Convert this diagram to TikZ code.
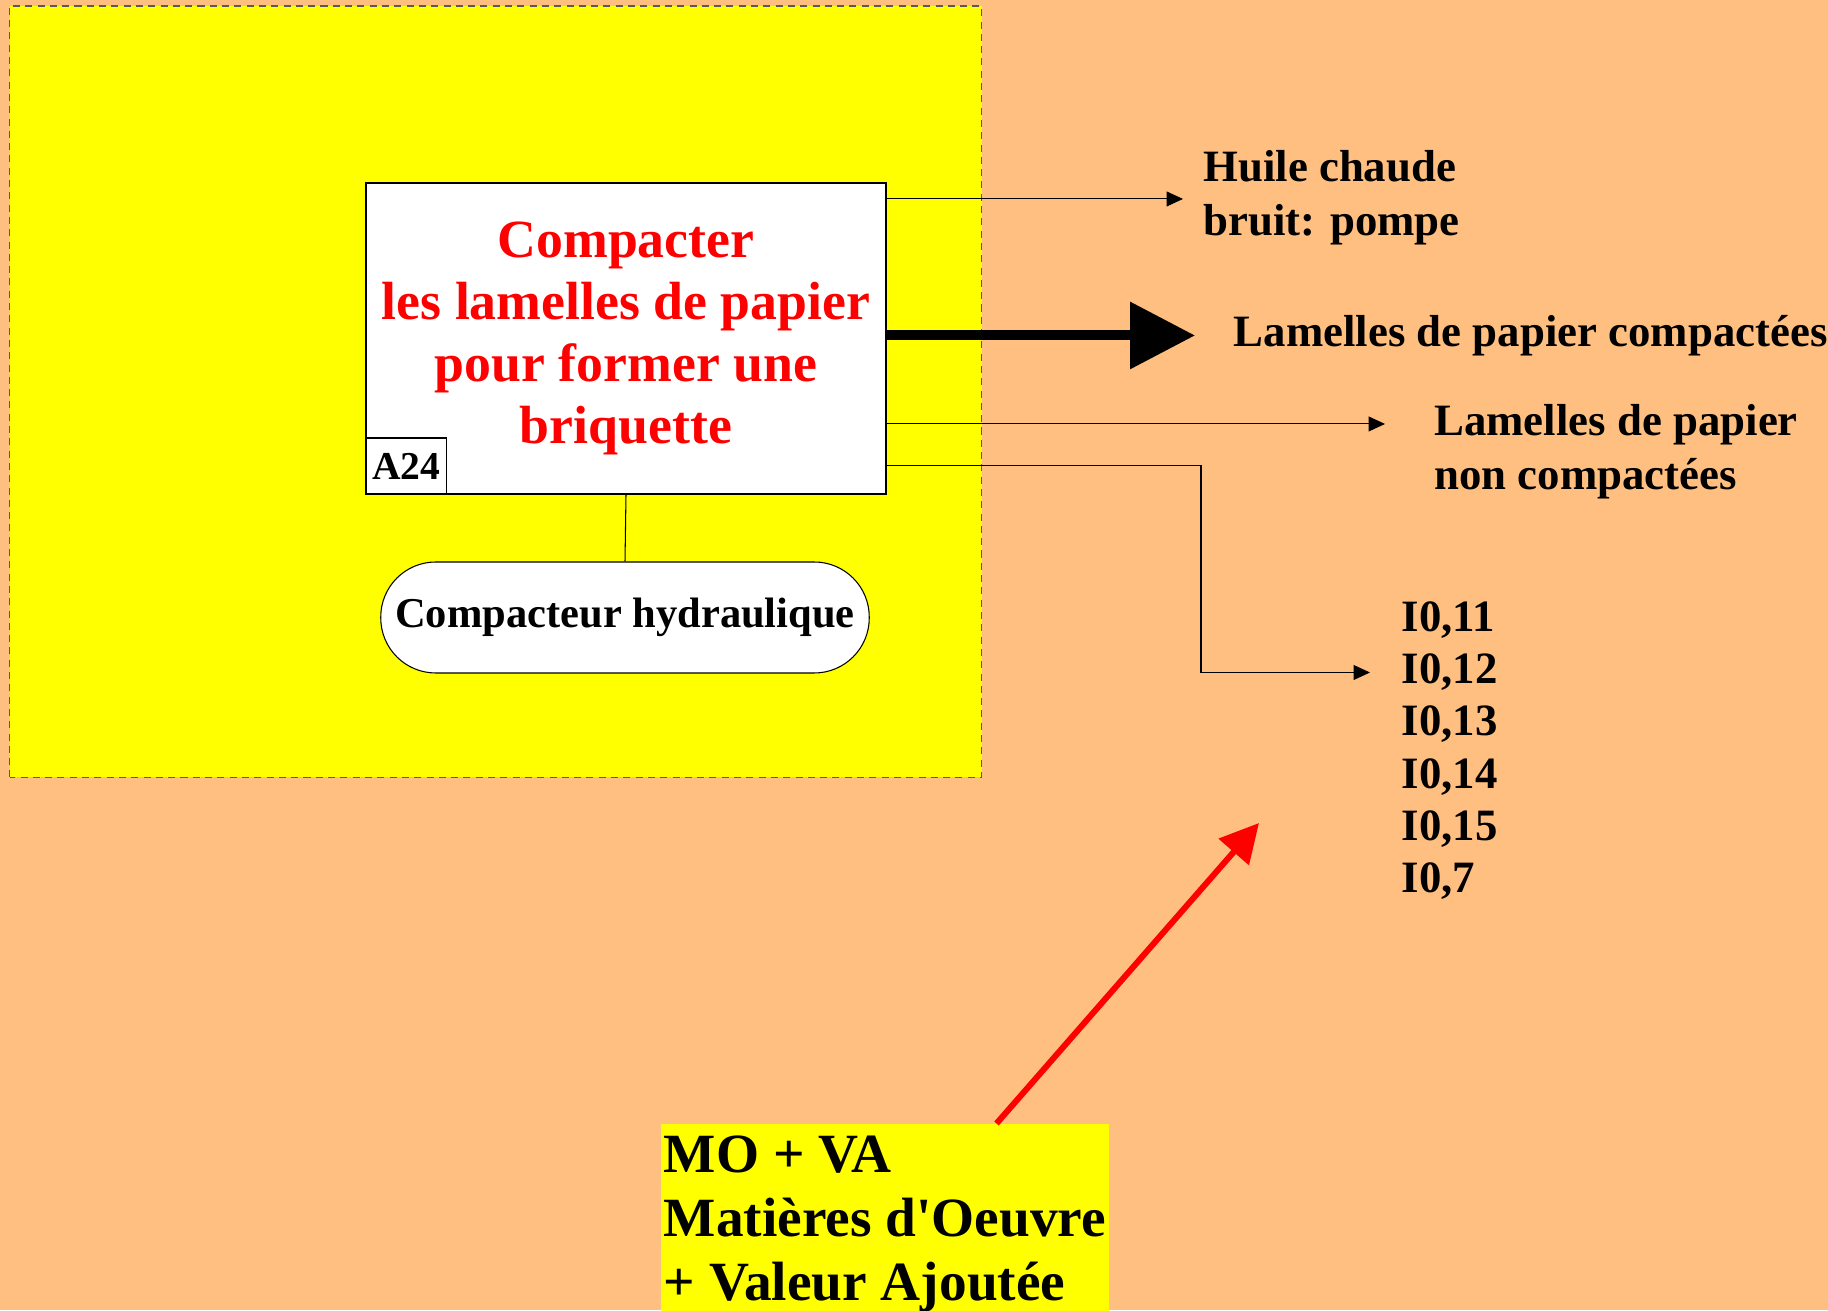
\documentclass[tikz,border=0pt]{standalone}
\usepackage{fontspec}
\setmainfont{Liberation Serif}
\usetikzlibrary{arrows.meta}
\definecolor{fond}{RGB}{255,191,128}
\definecolor{jaune}{RGB}{255,255,0}
\definecolor{rouge}{RGB}{255,0,0}

\begin{document}
\begin{tikzpicture}[
    activity/.style={draw, fill=white, line width=0.6pt, minimum width=10.4cm, minimum height=6.22cm, inner sep=0pt, align=center, text=rouge, font=\bfseries\fontsize{30.6}{35.3}\selectfont},
    refbox/.style={draw, fill=white, line width=0.6pt, minimum width=1.61cm, minimum height=1.12cm, inner sep=0pt, font=\bfseries\fontsize{22.5}{26}\selectfont},
    support/.style={draw, fill=white, line width=0.6pt, rounded corners=1.1cm, minimum width=9.77cm, minimum height=2.22cm, font=\bfseries\fontsize{24.2}{28}\selectfont},
    sortie/.style={anchor=west, inner sep=0pt, align=left, font=\bfseries\fontsize{25.5}{30.5}\selectfont},
    mobox/.style={fill=jaune, anchor=north west, align=left, inner xsep=0.05cm, inner ysep=7pt, font=\bfseries\fontsize{31.5}{36.4}\selectfont},
    flow/.style={line width=0.6pt, -{Triangle[length=0.33cm, width=0.3cm]}},
    grosflux/.style={line width=0.2cm, -{Triangle[length=1.3cm, width=1.3cm]}},
    redflux/.style={rouge, line width=0.12cm, -{Triangle[length=0.77cm, width=0.78cm]}}
]

% background and frame
\useasboundingbox (0,0) rectangle (36.56,26.2);
\fill[fond] (0,0) rectangle (36.56,26.2);
\draw[fill=jaune, draw=gray!70!black, line width=0.6pt, dash pattern=on 4pt off 3pt] (0.19,10.65) rectangle (19.63,26.08);

% === activity A24 ===
\node[activity] (box) at (12.52,19.43) {Compacter\\les lamelles de papier\\pour former une\\briquette};
\node[refbox, anchor=south west] (a24) at (box.south west) {A24};
\node[support] (meca) at (12.5,13.85) {Compacteur hydraulique};
\draw[line width=0.6pt] (box.south) -- (meca.north);

% === outputs ===
\node[sortie] (huile) at (24.06,22.25) {Huile chaude\\bruit: pompe};
\node[sortie] (lpc) at (24.67,19.49) {Lamelles de papier compactées};
\node[sortie] (nc) at (28.68,17.16) {Lamelles de papier\\non compactées};
\node[sortie, font=\bfseries\fontsize{25.5}{29.7}\selectfont] (io) at (28.03,11.19) {I0,11\\I0,12\\I0,13\\I0,14\\I0,15\\I0,7};

\coordinate (o1) at ([yshift=-0.33cm]box.north east);
\coordinate (o2) at ([yshift=-3.06cm]box.north east);
\coordinate (o3) at ([yshift=-4.83cm]box.north east);
\coordinate (o4) at ([yshift=-5.67cm]box.north east);
\coordinate (coude) at (24.02,12.75);

\draw[flow, shorten >=0.4cm] (o1) -- (o1 -| huile.west);
\draw[grosflux, shorten >=0.77cm] (o2) -- (o2 -| lpc.west);
\draw[flow, shorten >=0.98cm] (o3) -- (o3 -| nc.west);
\draw[flow, shorten >=0.63cm] (o4) -| (coude) -- (coude -| io.west);

% === MO + VA ===
\coordinate (cible) at (25.18,9.74);
\node[mobox] (mo) at (13.22,3.73) {MO + VA\\Matières d\textquotesingle Oeuvre\\+ Valeur Ajoutée};
\draw[redflux] ([xshift=6.71cm]mo.north west) -- (cible);

\end{tikzpicture}
\end{document}
